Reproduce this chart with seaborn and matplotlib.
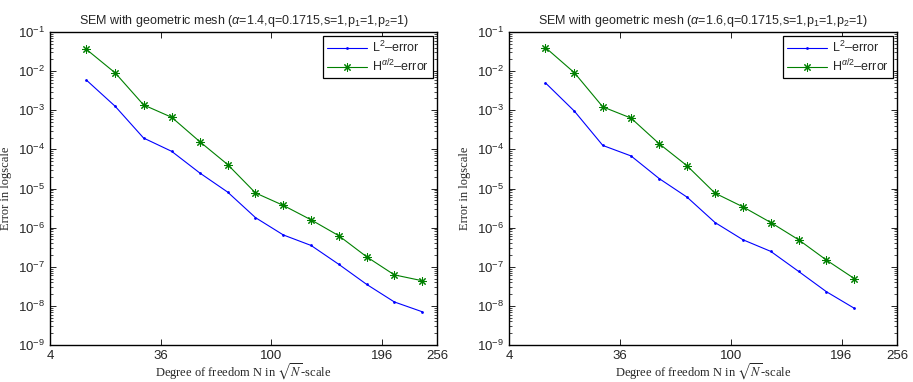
import numpy as np
import pandas as pd
import matplotlib
matplotlib.use("Agg")
import matplotlib.pyplot as plt
import seaborn as sns
from matplotlib.ticker import FixedLocator, NullFormatter, LogFormatterMathtext

# Degrees of freedom N (plotted on a sqrt(N) scale)
N_left = [11, 19, 29, 41, 55, 71, 89, 109, 131, 155, 181, 209, 239]
N_right = [11, 19, 29, 41, 55, 71, 89, 109, 131, 155, 181, 209]

# alpha = 1.4
L2_left = [5.9e-3, 1.26e-3, 1.95e-4, 8.9e-5, 2.5e-5, 8.1e-6, 1.8e-6,
           6.5e-7, 3.5e-7, 1.15e-7, 3.55e-8, 1.26e-8, 7.1e-9]
H_left = [3.6e-2, 9.0e-3, 1.37e-3, 6.6e-4, 1.58e-4, 4.1e-5, 7.7e-6,
          3.7e-6, 1.58e-6, 6.2e-7, 1.8e-7, 6.2e-8, 4.4e-8]

# alpha = 1.6
L2_right = [5.0e-3, 9.5e-4, 1.26e-4, 6.8e-5, 1.8e-5, 6.0e-6, 1.35e-6,
            4.9e-7, 2.47e-7, 7.6e-8, 2.3e-8, 8.7e-9]
H_right = [4.0e-2, 9.1e-3, 1.22e-3, 6.3e-4, 1.4e-4, 3.8e-5, 7.6e-6,
           3.4e-6, 1.35e-6, 4.9e-7, 1.48e-7, 5.0e-8]

titles = [r"SEM with geometric mesh ($\alpha$=1.4,q=0.1715,s=1,p$_1$=1,p$_2$=1)",
          r"SEM with geometric mesh ($\alpha$=1.6,q=0.1715,s=1,p$_1$=1,p$_2$=1)"]
xticks = [4, 36, 100, 196, 256]
ydecades = list(range(-9, 0))
xlabel = r"Degree of freedom N in $\sqrt{N}$-scale"
ylabel = "Error in logscale"
label_L2 = r"L$^2$–error"
label_H = r"H$^{\alpha/2}$–error"

sns.set_style("ticks")
plt.rcParams['font.family'] = ['Liberation Sans', 'DejaVu Sans']
plt.rcParams['mathtext.fontset'] = 'custom'
plt.rcParams['mathtext.rm'] = 'Liberation Sans'
plt.rcParams['mathtext.it'] = 'Liberation Sans:italic'
plt.rcParams['mathtext.sf'] = 'Liberation Sans'

fig = plt.figure(figsize=(9.13, 3.82), dpi=100)
axes = [fig.add_axes([50/913, 1-345/382, 387/913, 313/382]),
        fig.add_axes([509/913, 1-345/382, 388/913, 313/382])]

datasets = [(N_left, L2_left, H_left), (N_right, L2_right, H_right)]

major_y = [10.0**d for d in ydecades]
minor_y = [m * 10.0**d for d in ydecades[:-1] for m in range(2, 10)]

for ax, (N, L2, H), title in zip(axes, datasets, titles):
    df = pd.DataFrame({"N": N + N,
                       "err": L2 + H,
                       "kind": [label_L2]*len(N) + [label_H]*len(N)})
    ax.set_xscale('function', functions=(np.sqrt, np.square))
    ax.set_yscale('log')
    sns.lineplot(data=df[df.kind == label_L2], x="N", y="err", ax=ax,
                 color='#0000ff', marker='.', markersize=4, linewidth=0.8,
                 markeredgewidth=0, label=label_L2)
    sns.lineplot(data=df[df.kind == label_H], x="N", y="err", ax=ax,
                 color='#008000', marker=(8, 2, 0), markersize=6, linewidth=0.8,
                 markeredgewidth=0.75, markeredgecolor='#008000', label=label_H)
    ax.set_xlim(4, 256)
    ax.set_ylim(1e-9, 1e-1)
    ax.xaxis.set_major_locator(FixedLocator(xticks))
    ax.xaxis.set_minor_locator(FixedLocator([]))
    ax.set_xticklabels([str(t) for t in xticks])
    ax.yaxis.set_major_locator(FixedLocator(major_y))
    ax.yaxis.set_major_formatter(LogFormatterMathtext())
    ax.yaxis.set_minor_locator(FixedLocator(minor_y))
    ax.yaxis.set_minor_formatter(NullFormatter())
    ax.tick_params(which='both', direction='in', top=True, right=True,
                   labelsize=9.5, color='black')
    ax.tick_params(which='major', length=4, width=0.6)
    ax.tick_params(which='minor', length=2, width=0.5,
                   labelleft=False, labelbottom=False)
    for sp in ax.spines.values():
        sp.set_visible(True)
        sp.set_color('black')
        sp.set_linewidth(1.0)
    ax.set_title(title, fontsize=9, pad=6)
    ax.set_xlabel(xlabel, fontsize=9, family=['Liberation Serif'], labelpad=0)
    ax.set_ylabel(ylabel, fontsize=9, family=['Liberation Serif'], labelpad=4)
    ax.xaxis.label.set_math_fontfamily('stix')
    leg = ax.legend(loc='upper right', fontsize=9, frameon=True, fancybox=False,
                    edgecolor='black', framealpha=1, handlelength=3.2,
                    borderpad=0.3, labelspacing=0.2, handletextpad=0.4,
                    borderaxespad=0.35)
    leg.get_frame().set_linewidth(0.9)
    ax.grid(False)

fig.savefig("out.png", dpi=100)
